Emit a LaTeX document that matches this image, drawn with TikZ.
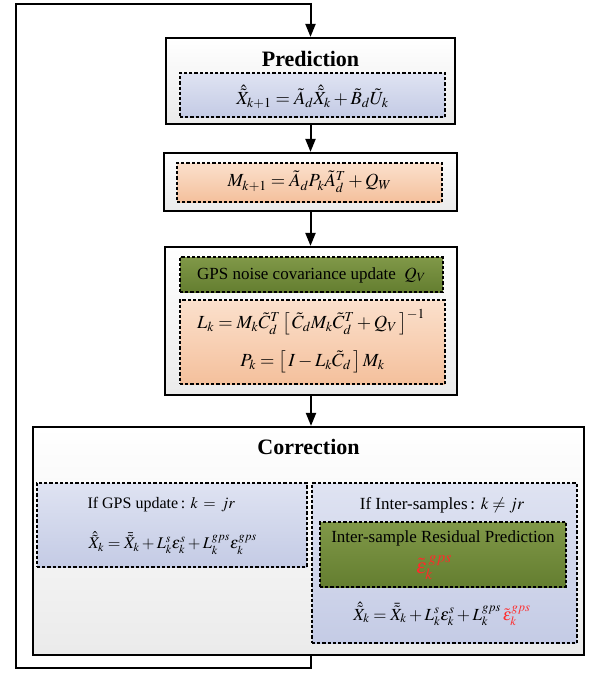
\documentclass[tikz,border=0pt]{standalone}
\usepackage{amsmath}
\usepackage{mathptmx}
\usepackage[no-math]{fontspec}
\setmainfont{Liberation Serif}
\usetikzlibrary{arrows.meta}
\definecolor{redeps}{HTML}{FF2A2A}
\tikzset{
  outerbox/.style={draw=black, line width=2.2pt, top color=white, bottom color=black!8, inner sep=0pt},
  dashbox/.style={draw=black, line width=1.5pt, dash pattern=on 3.2pt off 2pt, inner sep=0pt},
  bluebox/.style={dashbox, top color={rgb,255:red,223;green,227;blue,242}, bottom color={rgb,255:red,196;green,203;blue,229}},
  orangebox/.style={dashbox, top color={rgb,255:red,251;green,224;blue,204}, bottom color={rgb,255:red,244;green,192;blue,156}},
  greenbox/.style={dashbox, top color={rgb,255:red,128;green,152;blue,72}, bottom color={rgb,255:red,100;green,126;blue,48}},
  arrow/.style={line width=2pt, -{Triangle[length=13pt,width=10pt]}},
  loopline/.style={line width=2.2pt},
  title/.style={font=\fontsize{22}{26}\selectfont\bfseries},
  txt/.style={font=\fontsize{17}{20}\selectfont},
  stxt/.style={font=\fontsize{16}{19}\selectfont},
  seq/.style={font=\fontsize{16.3}{19}\selectfont},
  eq/.style={font=\fontsize{18.5}{22}\selectfont},
  bigeq/.style={font=\fontsize{21}{24}\selectfont},
}
\begin{document}
\begin{tikzpicture}[x=1pt,y=-1pt]
\useasboundingbox (0,0) rectangle (589,675);
% Prediction
\node[outerbox, minimum width=289pt, minimum height=86pt] (pred) at (310.5,81) {};
\node[title] (predt) at (310.5,59) {Prediction};
\node[bluebox, minimum width=265pt, minimum height=44pt] (predin) at (312.5,95) {};
\node[eq] (predeq) at (312.5,97) {$\hat{\tilde{X}}_{k+1}=\tilde{A}_d\hat{\tilde{X}}_k+\tilde{B}_d\tilde{U}_k$};
% M
\node[outerbox, minimum width=293pt, minimum height=58pt] (mbox) at (310.5,182) {};
\node[orangebox, minimum width=265pt, minimum height=39pt] (min) at (309.5,182.5) {};
\node[eq] (meq) at (309.5,182) {$M_{k+1}=\tilde{A}_dP_k\tilde{A}_d^T+Q_W$};
% Covariance / gain
\node[outerbox, minimum width=292pt, minimum height=148pt] (cov) at (311,321) {};
\node[greenbox, minimum width=263pt, minimum height=35pt] (gps) at (311.5,274.5) {};
\node[txt] (gpst) at (311.5,275) {GPS noise covariance update\ \ $Q_V$};
\node[orangebox, minimum width=265pt, minimum height=84pt] (gain) at (312.5,342) {};
\node[eq] (leq) at (311,322) {$L_k=M_k\tilde{C}_d^T\left[\,\tilde{C}_dM_k\tilde{C}_d^T+Q_V\,\right]^{-1}$};
\node[eq] (peq) at (312.5,362) {$P_k=\left[\,I-L_k\tilde{C}_d\,\right]M_k$};
% Correction
\node[outerbox, minimum width=551pt, minimum height=228pt] (corr) at (308.5,541) {};
\node[title] (corrt) at (308.5,447) {Correction};
\node[bluebox, minimum width=270pt, minimum height=84pt] (left) at (172,525) {};
\node[stxt, anchor=west] (lt) at (84,505) {If GPS update\,: $k\,=\,jr$};
\node[seq, anchor=west] (leq2) at (85,543) {$\hat{\tilde{X}}_k=\bar{\tilde{X}}_k+L_k^s\varepsilon_k^s+L_k^{gps}\varepsilon_k^{gps}$};
\node[bluebox, minimum width=265pt, minimum height=160pt] (right) at (444.5,563) {};
\node[txt] (rt) at (442,505) {If Inter-samples\,: $k\neq jr$};
\node[greenbox, minimum width=246pt, minimum height=65pt] (resid) at (443,554.5) {};
\node[txt] (rest) at (443,538) {Inter-sample Residual Prediction};
\node[bigeq, text=redeps] (reseps) at (434,568) {$\tilde{\varepsilon}^{\,gps}_{k}$};
\node[txt] (req) at (442,614) {$\hat{\tilde{X}}_k=\bar{\tilde{X}}_k+L_k^s\varepsilon_k^s+L_k^{gps}\,{\color{redeps}\tilde{\varepsilon}_k^{gps}}$};
% connectors
\draw[arrow] (pred.south) -- (pred.south |- mbox.north);
\draw[arrow] (mbox.south) -- (mbox.south |- cov.north);
\draw[arrow] (cov.south) -- (cov.south |- corr.north);
\coordinate (lp1) at (311,668);
\coordinate (lp2) at (16,4);
\draw[loopline] (corr.south -| lp1) -- (lp1) -| (lp2) -- (lp2 -| pred.north);
\draw[arrow] ([yshift=1.1pt]lp2 -| pred.north) -- (pred.north);
\end{tikzpicture}
\end{document}
